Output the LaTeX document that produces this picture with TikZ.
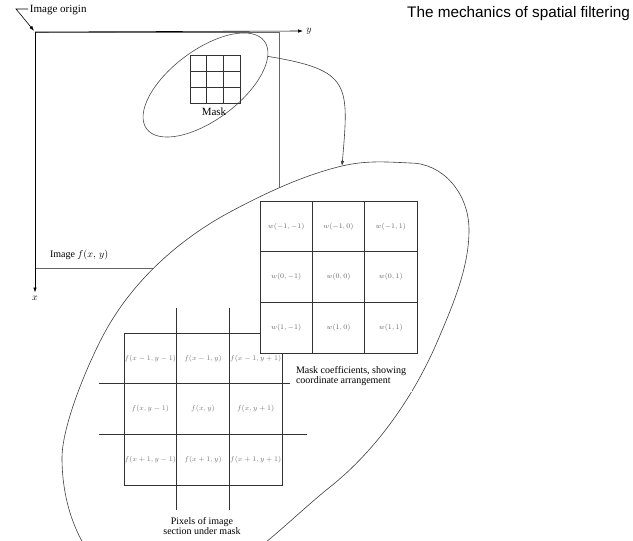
\documentclass[tikz,border=0pt]{standalone}
\usepackage{fontspec}
\setmainfont{Liberation Serif}
\newfontfamily\titlefont{Liberation Sans}
\usepackage{tikz}
\usetikzlibrary{shapes,arrows,positioning,calc,arrows.meta}

\begin{document}
\begin{tikzpicture}[x=1pt, y=-1pt, node distance=0cm, outer sep=0pt, line width=0.6pt,
    axis/.style={draw=black, -{Latex[length=5pt,width=3.5pt]}},
    maskcell/.style={draw=black!80, rectangle, minimum width=16.7pt, minimum height=16pt, inner sep=0pt},
    coefcell/.style={draw=black!80, rectangle, minimum width=52.3pt, minimum height=50.7pt, inner sep=0pt, fill=white, text=black!60, font=\fontsize{7.2}{8}\selectfont},
    pixcell/.style={draw=black!80, rectangle, minimum width=52.7pt, minimum height=50.7pt, inner sep=0pt, text=black!55, font=\fontsize{7}{8}\selectfont},
    pixline/.style={draw=black!80},
    note/.style={font=\fontsize{10}{10.5}\selectfont},
    bignote/.style={font=\fontsize{11}{12}\selectfont}]
    \useasboundingbox (0,0) rectangle (633,541);

    % title
    \node [anchor=base east, inner sep=0pt, font=\titlefont\fontsize{15.3}{18}\selectfont] (title) at (630,17) {The mechanics of spatial filtering};

    % image f(x,y) with its axes
    \coordinate (origin) at (35,32);
    \draw [black!60] (origin) rectangle (279,268);
    \node (ylabel) at (309,31) {$y$};
    \node (xlabel) at (35,298) {$x$};
    \draw [axis] (origin) -- (ylabel.west);
    \draw [axis] (origin) -- (xlabel.north);
    \node [bignote, anchor=base west, inner sep=0pt] (origintext) at (30,12) {Image origin};
    \draw [-{Latex[length=5pt,width=3.5pt]}, shorten >=1.5pt] ([xshift=-2pt,yshift=3pt]origintext.base west) -- ++(-12pt,0) -- (origin);
    \node [note, anchor=base west, inner sep=0pt] (imagetext) at (50,257) {Image $f(x,\,y)$};

    % mask on the image
    \node [draw=black!70, ellipse, rotate=36.7, minimum width=146.8pt, minimum height=69.8pt, inner sep=0pt] (maskzone) at (205.5,85) {};
    \node [maskcell] (m11) at (198.3,63) {};
    \node [maskcell, right=of m11] (m12) {};
    \node [maskcell, right=of m12] (m13) {};
    \node [maskcell, below=of m11] (m21) {};
    \node [maskcell, right=of m21] (m22) {};
    \node [maskcell, right=of m22] (m23) {};
    \node [maskcell, below=of m21] (m31) {};
    \node [maskcell, right=of m31] (m32) {};
    \node [maskcell, right=of m32] (m33) {};
    \node [bignote, anchor=base, inner sep=0pt] (masktext) at (214,115) {Mask};

    % enlarged view
    \begin{scope}
        \clip (0,0) rectangle (633,541);
        \coordinate (lensentry) at (342,166);
        \draw [black!75, fill=white] (lensentry) .. controls (365.4,160.4) and (386,161.8) .. (410,163)
            .. controls (442.6,163) and (469,193) .. (469,230)
            .. controls (469,268) and (452.8,305) .. (438,340)
            .. controls (414.6,395.2) and (376.8,449.8) .. (330,487)
            .. controls (283.2,524.2) and (220,595) .. (160,595)
            .. controls (106,595) and (62,534.5) .. (62,458)
            .. controls (62,425) and (88.2,362.8) .. (105,332)
            .. controls (132.8,281) and (179,239.3) .. (230,212)
            .. controls (265.2,193.2) and (303.1,175.3) .. (lensentry) -- cycle;
    \end{scope}
    \draw [black!75, -{Latex[length=5pt,width=3.5pt]}] (maskzone.-12) .. controls (351,70) and (349,84) .. (lensentry);

    % pixels of the image section
    \node [pixcell] (f11) at (150.3,358.3) {$f(x-1,y-1)$};
    \node [pixcell, right=of f11] (f12) {$f(x-1,y)$};
    \node [pixcell, right=of f12] (f13) {$f(x-1,y+1)$};
    \node [pixcell, below=of f11] (f21) {$f(x,y-1)$};
    \node [pixcell, right=of f21] (f22) {$f(x,y)$};
    \node [pixcell, right=of f22] (f23) {$f(x,y+1)$};
    \node [pixcell, below=of f21] (f31) {$f(x+1,y-1)$};
    \node [pixcell, right=of f31] (f32) {$f(x+1,y)$};
    \node [pixcell, right=of f32] (f33) {$f(x+1,y+1)$};
    \draw [pixline] ([yshift=25pt]f11.north east) -- ([yshift=-25pt]f31.south east);
    \draw [pixline] ([yshift=25pt]f12.north east) -- ([yshift=-25pt]f32.south east);
    \draw [pixline] ([xshift=-25pt]f11.south west) -- ([xshift=25pt]f13.south east);
    \draw [pixline] ([xshift=-25pt]f21.south west) -- ([xshift=25pt]f23.south east);

    % mask coefficients
    \node [coefcell] (w11) at (286.2,226.3) {$w(-1,-1)$};
    \node [coefcell, right=of w11] (w12) {$w(-1,0)$};
    \node [coefcell, right=of w12] (w13) {$w(-1,1)$};
    \node [coefcell, below=of w11] (w21) {$w(0,-1)$};
    \node [coefcell, right=of w21] (w22) {$w(0,0)$};
    \node [coefcell, right=of w22] (w23) {$w(0,1)$};
    \node [coefcell, below=of w21] (w31) {$w(1,-1)$};
    \node [coefcell, right=of w31] (w32) {$w(1,0)$};
    \node [coefcell, right=of w32] (w33) {$w(1,1)$};

    \node [note, anchor=north west, inner sep=6pt, fill=white, align=left] (coeftext) at (290,360) {Mask coefficients, showing\\coordinate arrangement};
    \node [note, anchor=north, inner sep=0pt, align=center] (pixtext) at (202,517) {Pixels of image\\section under mask};
\end{tikzpicture}
\end{document}
